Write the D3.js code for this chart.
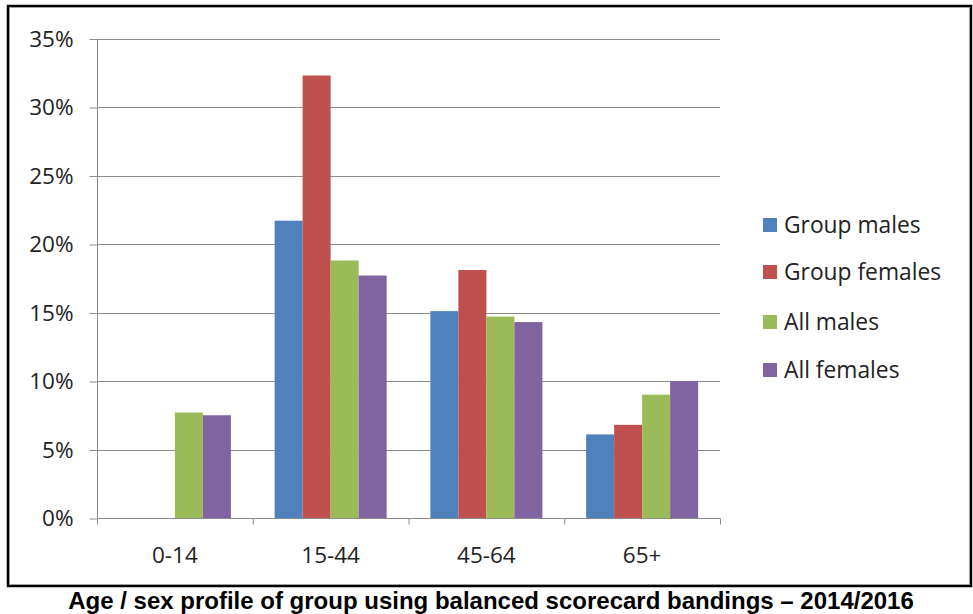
<!DOCTYPE html>
<html>
<head>
<meta charset="utf-8">
<script src="https://cdn.jsdelivr.net/npm/d3@7/dist/d3.min.js"></script>
<style>
  html, body { margin: 0; padding: 0; background: #fff; }
  svg { display: block; }
</style>
</head>
<body>
<svg id="chart" width="973" height="614"></svg>
<script>
const categories = ["0-14", "15-44", "45-64", "65+"];
const seriesNames = ["Group males", "Group females", "All males", "All females"];
const groupMales   = [0,    21.7, 15.1, 6.1];
const groupFemales = [0,    32.3, 18.1, 6.8];
const allMales     = [7.7,  18.8, 14.7, 9.0];
const allFemales   = [7.5,  17.7, 14.3, 10.0];
const yTicks = [0, 5, 10, 15, 20, 25, 30, 35];
const colors = ["#4f81bd", "#c0504d", "#9bbb59", "#8064a2"];

const seriesValues = [groupMales, groupFemales, allMales, allFemales];
const series = seriesNames.map((name, i) => ({ name, values: seriesValues[i], color: colors[i] }));

const svg = d3.select("#chart");
const font = "'Open Sans', Lato, sans-serif";

// Outer frame
svg.append("rect").attr("x", 8).attr("y", 6).attr("width", 963).attr("height", 580)
  .attr("fill", "#fff").attr("stroke", "#000").attr("stroke-width", 2.5);
svg.append("rect").attr("x", 9.5).attr("y", 7.5).attr("width", 960).attr("height", 577)
  .attr("fill", "none").attr("stroke", "#a0a0a0").attr("stroke-width", 1);

const plot = { left: 97, right: 720, top: 38.5, bottom: 518 };

const x = d3.scaleBand().domain(categories).range([plot.left, plot.right]).paddingInner(0).paddingOuter(0);
const y = d3.scaleLinear().domain([0, 35]).range([plot.bottom, plot.top]);
const barW = 28;
const xs = d3.scaleBand().domain(seriesNames).range([0, barW * 4]);

// gridlines
svg.append("g").selectAll("line").data(yTicks.filter(t => t > 0)).join("line")
  .attr("x1", plot.left).attr("x2", plot.right)
  .attr("y1", d => Math.round(y(d)) + 0.5).attr("y2", d => Math.round(y(d)) + 0.5)
  .attr("stroke", "#8c8c8c").attr("stroke-width", 1);

// bars
const g = svg.append("g");
series.forEach(s => {
  g.append("g").selectAll("rect").data(s.values.map((v, i) => ({ v, c: categories[i] })).filter(d => d.v > 0)).join("rect")
    .attr("x", d => x(d.c) + (x.bandwidth() - barW * 4) / 2 + xs(s.name))
    .attr("y", d => y(d.v))
    .attr("width", xs.bandwidth())
    .attr("height", d => y(0) - y(d.v))
    .attr("fill", s.color);
});

// y axis
const yAxis = d3.axisLeft(y).tickValues(yTicks).tickFormat(d => d + "%").tickSize(8).tickPadding(16);
const ya = svg.append("g").attr("transform", `translate(${plot.left + 0.5},0.5)`).call(yAxis);
ya.select(".domain").attr("stroke", "#8c8c8c").attr("d", `M0,${plot.top}V${plot.bottom}`);
ya.selectAll(".tick line").attr("stroke", "#8c8c8c");
ya.selectAll(".tick text").attr("font-family", font).attr("font-size", 22.5).attr("fill", "#222");

// x axis
const xa = svg.append("g").attr("transform", `translate(0,${plot.bottom + 0.5})`);
xa.append("line").attr("x1", plot.left).attr("x2", plot.right + 0.5).attr("stroke", "#8c8c8c");
const boundaries = categories.map(c => x(c)).concat([plot.right]);
xa.selectAll("line.t").data(boundaries).join("line").attr("class", "t")
  .attr("x1", d => d + 0.5).attr("x2", d => d + 0.5).attr("y1", 0).attr("y2", 6)
  .attr("stroke", "#8c8c8c");
xa.selectAll("text").data(categories).join("text")
  .attr("x", d => x(d) + x.bandwidth() / 2).attr("y", 44)
  .attr("text-anchor", "middle").attr("font-family", font).attr("font-size", 22.5).attr("fill", "#222")
  .text(d => d);

// legend
const lg = svg.append("g").attr("transform", "translate(763,0)");
const rowY = [225, 272, 322, 370];
series.forEach((s, i) => {
  lg.append("rect").attr("x", 0).attr("y", rowY[i] - 7).attr("width", 14).attr("height", 14).attr("fill", s.color);
  lg.append("text").attr("x", 21).attr("y", rowY[i] + 8).attr("font-family", font).attr("font-size", 22.8)
    .attr("fill", "#222").text(s.name);
});

// title
svg.append("text").attr("x", 491).attr("y", 609).attr("text-anchor", "middle")
  .attr("font-family", "'Liberation Sans', Arial, sans-serif").attr("font-weight", "bold")
  .attr("font-size", 24).attr("fill", "#000")
  .text("Age / sex profile of group using balanced scorecard bandings \u2013 2014/2016");
</script>
</body>
</html>
